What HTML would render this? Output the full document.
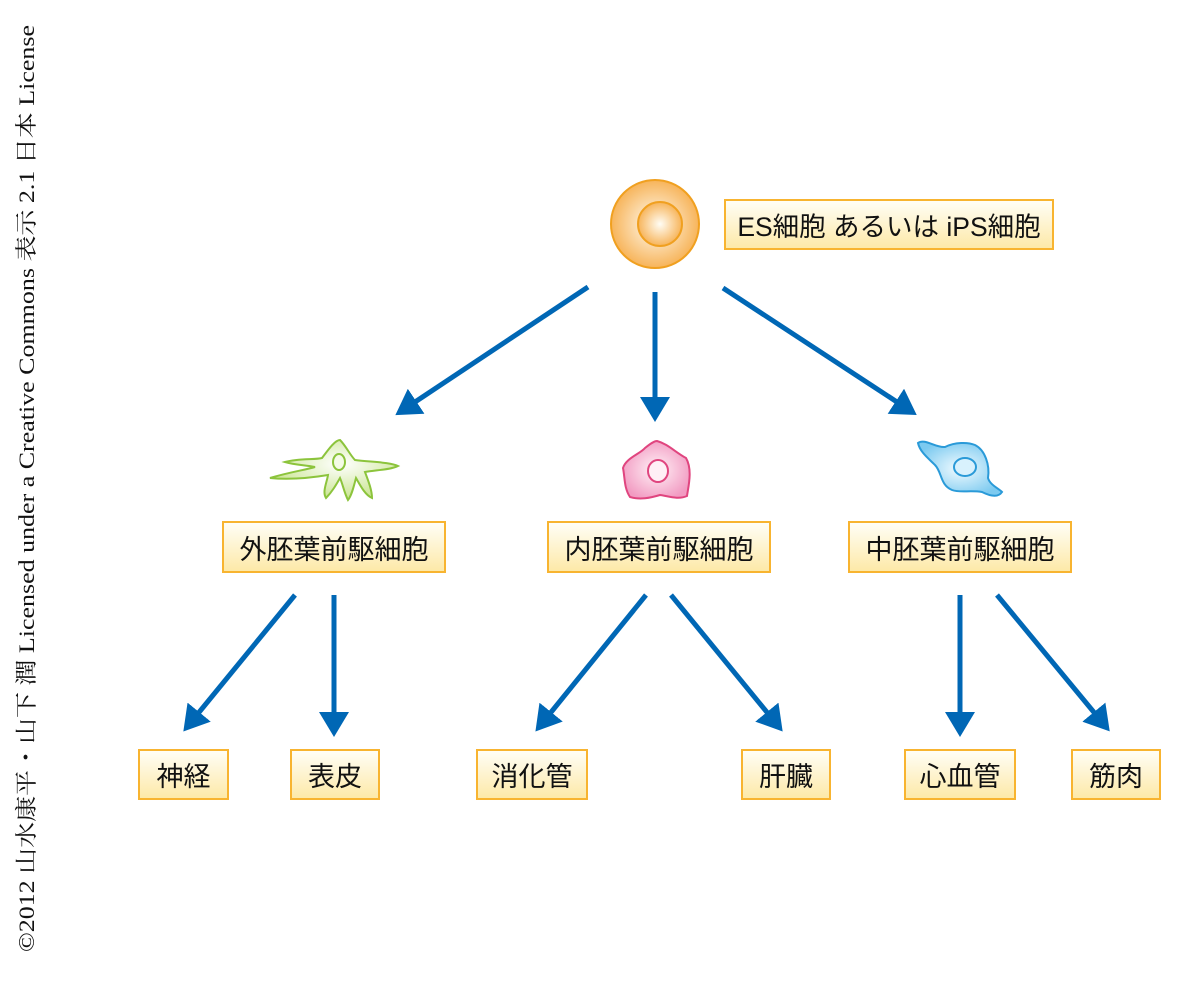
<!DOCTYPE html>
<html><head><meta charset="utf-8"><style>
html,body{margin:0;padding:0;background:#fff;}
body{width:1200px;height:984px;position:relative;overflow:hidden;font-family:"Liberation Sans","Noto Sans CJK JP",sans-serif;}
.b{position:absolute;box-sizing:border-box;border:2px solid #f8b430;background:linear-gradient(#fffef6,#fde9a8);display:flex;align-items:center;justify-content:center;font-size:27px;color:#111;}
svg{position:absolute;left:0;top:0;}
</style></head><body>
<svg width="1200" height="984">
<defs>
<marker id="a" markerWidth="6" markerHeight="6" refX="1" refY="3" orient="auto" markerUnits="strokeWidth">
<path d="M0,0 L5,3 L0,6 z" fill="#0067b5"/></marker>
<radialGradient id="og" cx="50%" cy="50%" r="50%"><stop offset="0" stop-color="#fffdf5"/><stop offset="1" stop-color="#f7b45a"/></radialGradient>
<radialGradient id="gg" cx="55%" cy="40%" r="60%"><stop offset="0" stop-color="#ffffff"/><stop offset="1" stop-color="#c8e48e"/></radialGradient>
<radialGradient id="pg" cx="50%" cy="50%" r="55%"><stop offset="0" stop-color="#fff2f7"/><stop offset="1" stop-color="#f29bc2"/></radialGradient>
<radialGradient id="bg" cx="50%" cy="50%" r="55%"><stop offset="0" stop-color="#f2fbff"/><stop offset="1" stop-color="#7ccaf0"/></radialGradient>
</defs>
<text transform="translate(34,952) rotate(-90)" font-family="Liberation Serif,'Noto Serif CJK SC',serif" font-size="22" fill="#111" textLength="927" lengthAdjust="spacingAndGlyphs">©2012 山水康平・山下 潤 Licensed under a Creative Commons 表示 2.1 日本 License</text>
<circle cx="655" cy="224" r="44" fill="url(#og)" stroke="#f0a020" stroke-width="2"/>
<circle cx="660" cy="224" r="22" fill="url(#og)" stroke="#f0a020" stroke-width="2"/>
<g stroke="#0067b5" stroke-width="5" fill="none" marker-end="url(#a)">
<line x1="588" y1="287" x2="412" y2="404"/>
<line x1="655" y1="292" x2="655" y2="402"/>
<line x1="723" y1="288" x2="900" y2="404"/>
<line x1="295" y1="595" x2="196" y2="716"/>
<line x1="334" y1="595" x2="334" y2="717"/>
<line x1="646" y1="595" x2="548" y2="716"/>
<line x1="671" y1="595" x2="770" y2="716"/>
<line x1="960" y1="595" x2="960" y2="717"/>
<line x1="997" y1="595" x2="1097" y2="716"/>
</g>
<path d="M270,478 C290,472 305,470 315,467 C305,465 295,465 285,462 C300,458 315,460 322,458 C328,450 335,440 340,440 C346,446 350,455 355,460 C370,462 390,462 398,466 C390,470 375,470 365,472 C368,480 372,490 372,498 C365,495 360,485 356,478 C354,485 352,495 348,500 C344,492 343,485 340,478 C336,485 332,492 326,498 C322,492 327,482 328,475 C310,478 290,480 270,478 Z" fill="url(#gg)" stroke="#8cc43c" stroke-width="2"/>
<ellipse cx="339" cy="462" rx="6" ry="8" fill="#f4fbe6" stroke="#8cc43c" stroke-width="2"/>
<path d="M657,441 C668,444 675,452 686,458 C693,470 688,488 687,496 C678,500 668,496 660,495 C650,498 640,500 630,497 C624,488 625,478 623,468 C626,458 640,454 645,448 C650,444 654,441 657,441 Z" fill="url(#pg)" stroke="#e0457f" stroke-width="2"/>
<ellipse cx="658" cy="471" rx="10" ry="11" fill="#fff0f6" stroke="#e0457f" stroke-width="2"/>
<path d="M918,443 C925,438 935,448 945,447 C955,442 968,442 975,445 C985,450 990,465 988,478 C990,485 998,488 1002,492 C998,498 990,496 982,492 C970,490 960,493 952,490 C940,485 942,472 935,465 C928,458 920,452 918,443 Z" fill="url(#bg)" stroke="#2a9ad8" stroke-width="2"/>
<ellipse cx="965" cy="467" rx="11" ry="9" fill="#d8f1fd" stroke="#2a9ad8" stroke-width="2"/>
</svg>
<div class="b" style="left:724px;top:199px;width:330px;height:51px;font-size:26.5px;">ES細胞 あるいは iPS細胞</div>
<div class="b" style="left:222px;top:521px;width:224px;height:52px;">外胚葉前駆細胞</div>
<div class="b" style="left:547px;top:521px;width:224px;height:52px;">内胚葉前駆細胞</div>
<div class="b" style="left:848px;top:521px;width:224px;height:52px;">中胚葉前駆細胞</div>
<div class="b" style="left:138px;top:749px;width:91px;height:51px;">神経</div>
<div class="b" style="left:290px;top:749px;width:90px;height:51px;">表皮</div>
<div class="b" style="left:476px;top:749px;width:112px;height:51px;">消化管</div>
<div class="b" style="left:741px;top:749px;width:90px;height:51px;">肝臓</div>
<div class="b" style="left:904px;top:749px;width:112px;height:51px;">心血管</div>
<div class="b" style="left:1071px;top:749px;width:90px;height:51px;">筋肉</div>
</body></html>
